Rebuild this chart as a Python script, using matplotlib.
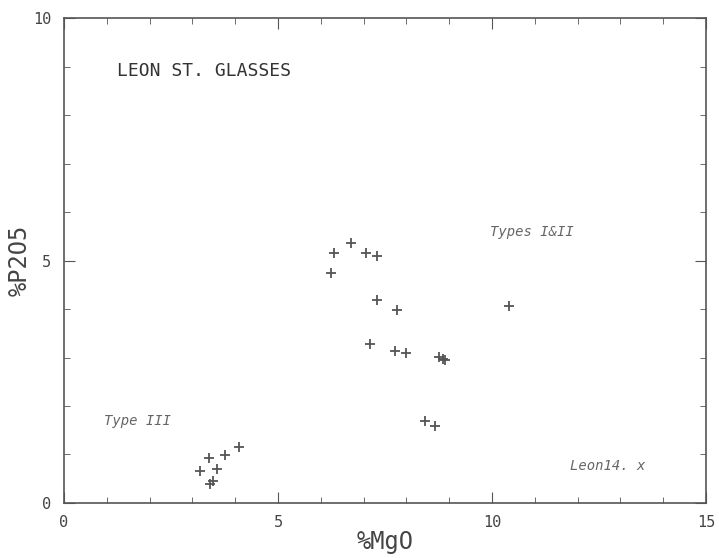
import matplotlib.pyplot as plt
from matplotlib.ticker import MultipleLocator

plt.rcParams['font.family'] = 'DejaVu Sans Mono'

# Leon St. glasses: %MgO vs %P2O5
mgo_12 = [6.70, 6.31, 7.06, 7.31, 6.23, 7.31, 7.79, 10.40, 7.15, 7.73, 7.99, 8.77, 8.85, 8.90, 8.43, 8.67]
p2o5_12 = [5.37, 5.16, 5.15, 5.09, 4.74, 4.19, 3.98, 4.07, 3.27, 3.13, 3.10, 3.02, 2.97, 2.94, 1.70, 1.59]
mgo_3 = [4.08, 3.75, 3.39, 3.57, 3.18, 3.47, 3.40]
p2o5_3 = [1.15, 0.98, 0.92, 0.71, 0.65, 0.45, 0.39]

col = '#555555'
fig = plt.figure(figsize=(7.19, 5.58), dpi=100)
ax = fig.add_axes([0.089, 0.0986, 0.893, 0.869])

ax.plot(mgo_12, p2o5_12, linestyle='none', marker='+', markersize=7, mew=1.3, color=col)
ax.plot(mgo_3, p2o5_3, linestyle='none', marker='+', markersize=7, mew=1.3, color=col)

ax.set_xlim(0, 15)
ax.set_ylim(0, 10)
ax.xaxis.set_major_locator(MultipleLocator(5))
ax.xaxis.set_minor_locator(MultipleLocator(1))
ax.yaxis.set_major_locator(MultipleLocator(5))
ax.yaxis.set_minor_locator(MultipleLocator(1))
ax.tick_params(which='both', direction='in', top=True, right=True, color=col,
               labelcolor='#444444', labelsize=11)
ax.tick_params(which='major', length=8, pad=9)
ax.tick_params(which='minor', length=4)
for s in ax.spines.values():
    s.set_color(col)
    s.set_linewidth(1.2)

ax.set_xlabel('%MgO', fontsize=17, color='#444444', labelpad=0)
ax.set_ylabel('%P2O5', fontsize=17, color='#444444', labelpad=1)

ax.text(1.24, 8.9, 'LEON ST. GLASSES', fontsize=13, color='#333333', va='center')
ax.text(9.95, 5.59, 'Types I&II', fontsize=10, style='italic', color='#666666', va='center')
ax.text(0.93, 1.69, 'Type III', fontsize=10, style='italic', color='#666666', va='center')
ax.text(11.82, 0.76, 'Leon14. x', fontsize=10, style='italic', color='#666666', va='center')

fig.savefig('out.png', dpi=100)
